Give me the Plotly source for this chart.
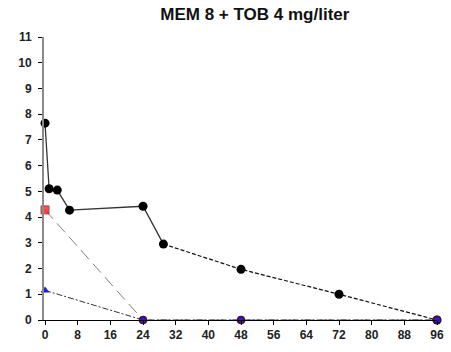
import plotly.graph_objects as go

time_h = [0, 1, 3, 6, 24, 29, 48, 72, 96]
mem_tob = [7.65, 5.1, 5.05, 4.27, 4.42, 2.95, 1.97, 1.0, 0.0]

red_x = [0, 24, 48, 96]
red_y = [4.28, 0.0, 0.0, 0.0]

blue_x = [0, 24, 48, 96]
blue_y = [1.15, 0.0, 0.0, 0.0]

x_ticks = list(range(0, 97, 8))
y_ticks = list(range(0, 12))

fig = go.Figure()

# red series (dashed gray line)
fig.add_trace(go.Scatter(x=red_x, y=red_y, mode="lines+markers",
                         line=dict(color="#7f7f7f", width=1, dash="12px,6px"),
                         marker=dict(symbol="square", size=[8, 6, 6, 6], color="#ff0000",
                                     line=dict(color="#700000", width=1)),
                         cliponaxis=False, showlegend=False))
# blue series
fig.add_trace(go.Scatter(x=blue_x, y=blue_y, mode="lines+markers",
                         line=dict(color="#333", width=1, dash="6px,2px,2px,2px"),
                         marker=dict(symbol="triangle-up", size=7, color="#1a1aff",
                                     line=dict(color="#222", width=0.5)),
                         cliponaxis=False, showlegend=False))
# black series: solid part then dashed part
split = 5
fig.add_trace(go.Scatter(x=time_h[:split + 1], y=mem_tob[:split + 1], mode="lines",
                         line=dict(color="#333", width=1.3),
                         cliponaxis=False, showlegend=False))
fig.add_trace(go.Scatter(x=time_h[split:], y=mem_tob[split:], mode="lines",
                         line=dict(color="#111", width=1.2, dash="4px,2px"),
                         cliponaxis=False, showlegend=False))
fig.add_trace(go.Scatter(x=time_h, y=mem_tob, mode="markers",
                         marker=dict(symbol="circle", size=9, color="black"),
                         cliponaxis=False, showlegend=False))
# blue markers on top at zero
fig.add_trace(go.Scatter(x=blue_x[1:], y=blue_y[1:], mode="markers",
                         marker=dict(symbol="circle", size=7, color="#1a1aff",
                                     line=dict(color="#5a0a2a", width=1.5)),
                         cliponaxis=False, showlegend=False))

font = dict(family="Liberation Sans, Arial, sans-serif", size=12, color="#222")

fig.update_layout(
    width=451, height=352,
    margin=dict(l=44, r=14, t=37, b=32),
    paper_bgcolor="white", plot_bgcolor="white",
    title=dict(text="<b>MEM 8 + TOB 4 mg/liter</b>", x=0.565, xanchor="center",
               y=0.96, yanchor="middle",
               font=dict(family="Liberation Sans, Arial, sans-serif", size=17, color="#111")),
    xaxis=dict(range=[-0.25, 96], tickvals=x_ticks, automargin=False,
               ticktext=[f"<b>{t}</b>" for t in x_ticks],
               showgrid=False, zeroline=False, showline=True, linecolor="black",
               linewidth=1, ticks="outside", ticklen=4, tickcolor="black",
               tickfont=font),
    yaxis=dict(range=[0, 11], tickvals=y_ticks, automargin=False,
               ticktext=[f"<b>{t}</b>" for t in y_ticks],
               showgrid=False, zeroline=False, showline=True, linecolor="#8a8a8a",
               linewidth=2, ticks="outside", ticklen=4, tickcolor="black",
               ticklabelstandoff=4, tickfont=font),
)

fig.write_html("out.html", config={"displayModeBar": False},
               post_script="document.body.style.margin='0';")
